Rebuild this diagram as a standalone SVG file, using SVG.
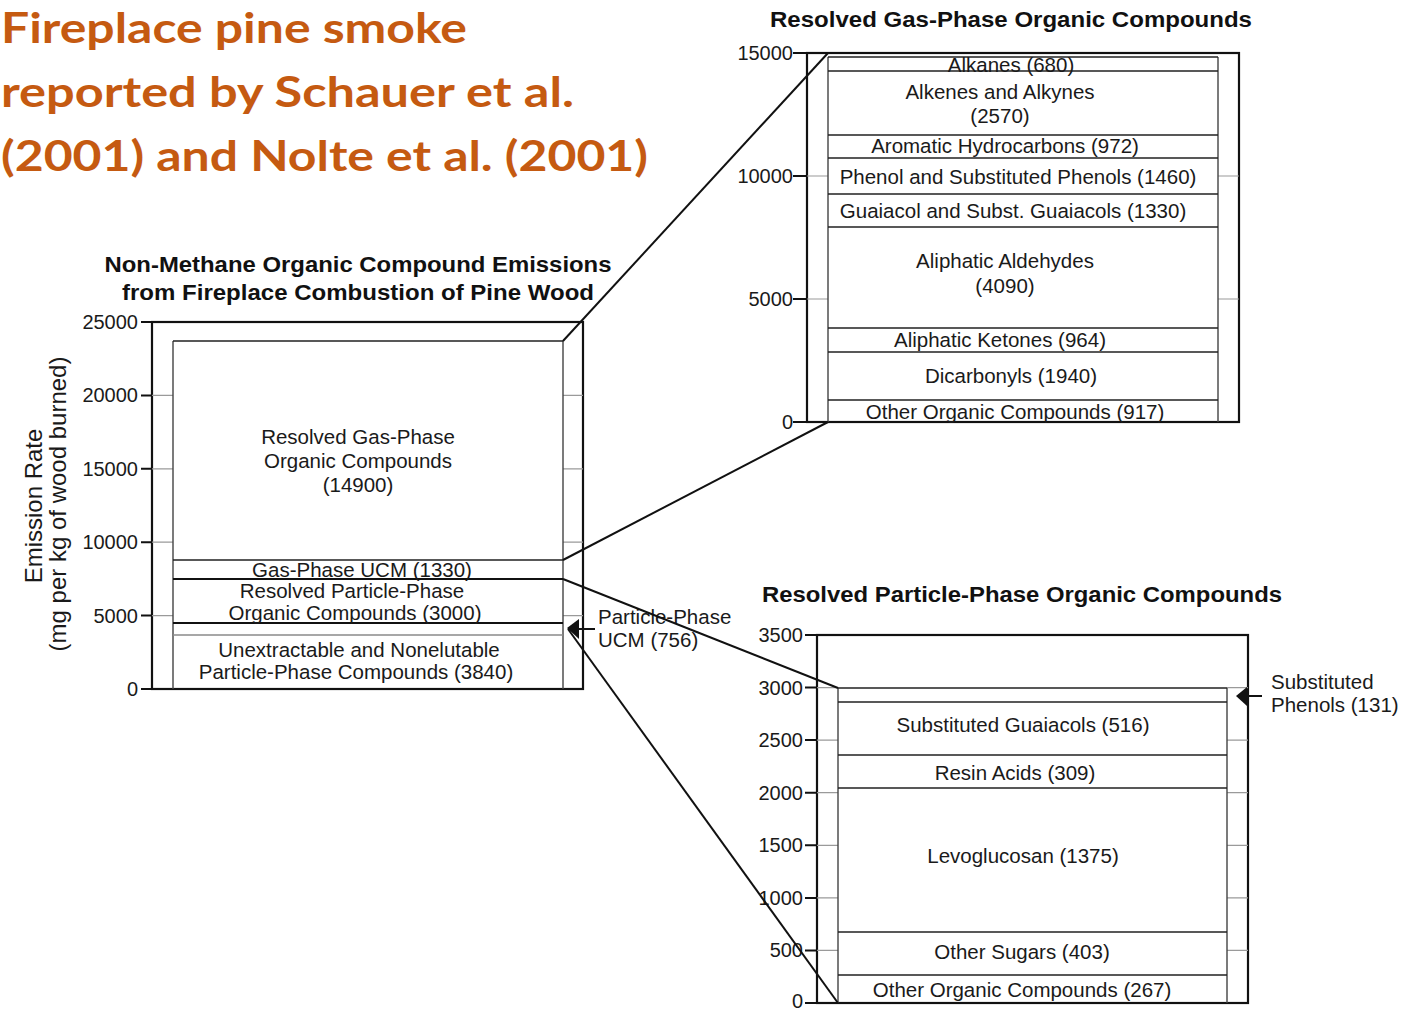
<svg xmlns="http://www.w3.org/2000/svg" width="1404" height="1010" viewBox="0 0 1404 1010">
<style>
  .headline{font-family:Lato,"Open Sans","Liberation Sans",sans-serif;font-weight:700;font-size:42px;fill:#C55A11}
  .ttl{font-family:"Liberation Sans",Arial,sans-serif;font-weight:700;font-size:22px;fill:#111;text-anchor:middle}
  .lbl{font-family:"Liberation Sans",Arial,sans-serif;font-size:20.5px;fill:#1a1a1a;text-anchor:middle}
  .note{font-family:"Liberation Sans",Arial,sans-serif;font-size:20.5px;fill:#1a1a1a}
  .tk{font-family:"Liberation Sans",Arial,sans-serif;font-size:20px;fill:#1a1a1a;text-anchor:end}
  .axt{font-family:"Liberation Sans",Arial,sans-serif;font-size:24px;fill:#1a1a1a;text-anchor:middle}
  .frame{fill:none;stroke:#111;stroke-width:2.2}
  .tick{stroke:#111;stroke-width:2;fill:none}
  .grid{stroke:#9a9a9a;stroke-width:1.2;fill:none}
  .edge{stroke:#444;stroke-width:1.4;fill:none}
  .sep{stroke:#222;stroke-width:1.5;fill:none}
  .sepb{stroke:#111;stroke-width:2.2;fill:none}
  .sepl{stroke:#8a8a8a;stroke-width:1.3;fill:none}
  .conn{stroke:#111;stroke-width:2;fill:none}
  .head{fill:#111}
</style>
<rect width="1404" height="1010" fill="#fff"/>

<!-- headline -->
<g id="headline">
  <text class="headline" x="1" y="43" textLength="466" lengthAdjust="spacingAndGlyphs">Fireplace pine smoke</text>
  <text class="headline" x="1" y="107" textLength="573" lengthAdjust="spacingAndGlyphs">reported by Schauer et al.</text>
  <text class="headline" x="1" y="171" textLength="647" lengthAdjust="spacingAndGlyphs">(2001) and Nolte et al. (2001)</text>
</g>

<!-- total NMOC stacked bar -->
<g id="nmoc-chart">
  <text class="ttl" x="358" y="272" textLength="507" lengthAdjust="spacingAndGlyphs">Non-Methane Organic Compound Emissions</text>
  <text class="ttl" x="358" y="300" textLength="472" lengthAdjust="spacingAndGlyphs">from Fireplace Combustion of Pine Wood</text>
  <text class="axt" transform="translate(42,506) rotate(-90)">Emission Rate</text>
  <text class="axt" transform="translate(66,504) rotate(-90)">(mg per kg of wood burned)</text>
  <rect class="frame" x="152" y="322" width="431" height="367"/>
  <path class="tick" d="M141 322H152M141 395.4H152M141 468.8H152M141 542.2H152M141 615.6H152M141 689H152"/>
  <path class="grid" d="M152 395.4H173M152 468.8H173M152 542.2H173M152 615.6H173M563 395.4H583M563 468.8H583M563 542.2H583M563 615.6H583"/>
  <text class="tk" x="138" y="329">25000</text>
  <text class="tk" x="138" y="402">20000</text>
  <text class="tk" x="138" y="476">15000</text>
  <text class="tk" x="138" y="549">10000</text>
  <text class="tk" x="138" y="623">5000</text>
  <text class="tk" x="138" y="696">0</text>
  <path class="edge" d="M173 341V689M563 341V689"/>
  <path class="sep" d="M173 341H563M173 560H563"/>
  <path class="sepb" d="M173 579H563M173 623H563"/>
  <path class="sepl" d="M173 635H563"/>
  <text class="lbl" x="358" y="444">Resolved Gas-Phase</text>
  <text class="lbl" x="358" y="468">Organic Compounds</text>
  <text class="lbl" x="358" y="492">(14900)</text>
  <text class="lbl" x="362" y="577">Gas-Phase UCM (1330)</text>
  <text class="lbl" x="352" y="598">Resolved Particle-Phase</text>
  <text class="lbl" x="355" y="620">Organic Compounds (3000)</text>
  <text class="lbl" x="359" y="657">Unextractable and Nonelutable</text>
  <text class="lbl" x="356" y="679">Particle-Phase Compounds (3840)</text>
  <!-- pointer for the thin particle-phase UCM slice -->
  <polygon class="head" points="567,628 579,619 579,639"/>
  <path class="tick" d="M579 629H595"/>
  <text class="note" x="598" y="624">Particle-Phase</text>
  <text class="note" x="598" y="647">UCM (756)</text>
</g>

<!-- gas-phase breakdown -->
<g id="gas-chart">
  <text class="ttl" x="1011" y="27" textLength="482" lengthAdjust="spacingAndGlyphs">Resolved Gas-Phase Organic Compounds</text>
  <rect class="frame" x="807" y="53" width="432" height="369"/>
  <path class="tick" d="M793 53H807M793 176H807M793 299H807M793 422H807"/>
  <path class="grid" d="M807 176H828M807 299H828M1218 176H1239M1218 299H1239"/>
  <text class="tk" x="793" y="60">15000</text>
  <text class="tk" x="793" y="183">10000</text>
  <text class="tk" x="793" y="306">5000</text>
  <text class="tk" x="793" y="429">0</text>
  <path class="edge" d="M828 57V422M1218 57V422"/>
  <path class="sep" d="M828 57H1218M828 71H1218M828 135H1218M828 158H1218M828 194H1218M828 227H1218M828 328H1218M828 352H1218M828 400H1218"/>
  <text class="lbl" x="1011" y="72">Alkanes (680)</text>
  <text class="lbl" x="1000" y="99">Alkenes and Alkynes</text>
  <text class="lbl" x="1000" y="123">(2570)</text>
  <text class="lbl" x="1005" y="153">Aromatic Hydrocarbons (972)</text>
  <text class="lbl" x="1018" y="184">Phenol and Substituted Phenols (1460)</text>
  <text class="lbl" x="1013" y="218">Guaiacol and Subst. Guaiacols (1330)</text>
  <text class="lbl" x="1005" y="268">Aliphatic Aldehydes</text>
  <text class="lbl" x="1005" y="293">(4090)</text>
  <text class="lbl" x="1000" y="347">Aliphatic Ketones (964)</text>
  <text class="lbl" x="1011" y="383">Dicarbonyls (1940)</text>
  <text class="lbl" x="1015" y="419">Other Organic Compounds (917)</text>
</g>

<!-- particle-phase breakdown -->
<g id="particle-chart">
  <text class="ttl" x="1022" y="602" textLength="520" lengthAdjust="spacingAndGlyphs">Resolved Particle-Phase Organic Compounds</text>
  <rect class="frame" x="817" y="635" width="431" height="368"/>
  <path class="tick" d="M805 635H817M805 687.6H817M805 740.1H817M805 792.7H817M805 845.3H817M805 897.9H817M805 950.4H817M805 1003H817"/>
  <path class="grid" d="M817 687.6H838M817 740.1H838M817 792.7H838M817 845.3H838M817 897.9H838M817 950.4H838M1227 687.6H1248M1227 740.1H1248M1227 792.7H1248M1227 845.3H1248M1227 897.9H1248M1227 950.4H1248"/>
  <text class="tk" x="803" y="642">3500</text>
  <text class="tk" x="803" y="695">3000</text>
  <text class="tk" x="803" y="747">2500</text>
  <text class="tk" x="803" y="800">2000</text>
  <text class="tk" x="803" y="852">1500</text>
  <text class="tk" x="803" y="905">1000</text>
  <text class="tk" x="803" y="957">500</text>
  <text class="tk" x="803" y="1008">0</text>
  <path class="edge" d="M838 688V1003M1227 688V1003"/>
  <path class="sep" d="M838 688H1227M838 702H1227M838 755H1227M838 788H1227M838 932H1227M838 975H1227"/>
  <text class="lbl" x="1023" y="732">Substituted Guaiacols (516)</text>
  <text class="lbl" x="1015" y="780">Resin Acids (309)</text>
  <text class="lbl" x="1023" y="863">Levoglucosan (1375)</text>
  <text class="lbl" x="1022" y="959">Other Sugars (403)</text>
  <text class="lbl" x="1022" y="997">Other Organic Compounds (267)</text>
  <!-- pointer for the thin substituted phenols slice -->
  <polygon class="head" points="1236,696 1247,687 1247,706"/>
  <path class="tick" d="M1247 696H1262"/>
  <text class="note" x="1271" y="689">Substituted</text>
  <text class="note" x="1271" y="712">Phenols (131)</text>
</g>

<!-- zoom-out lines linking bar segments to their breakdowns -->
<g id="connectors">
  <path class="conn" d="M563 341L828 53"/>
  <path class="conn" d="M563 560L828 422"/>
  <path class="conn" d="M563 579L838 688"/>
  <path class="conn" d="M568 629L838 1003"/>
</g>
</svg>
